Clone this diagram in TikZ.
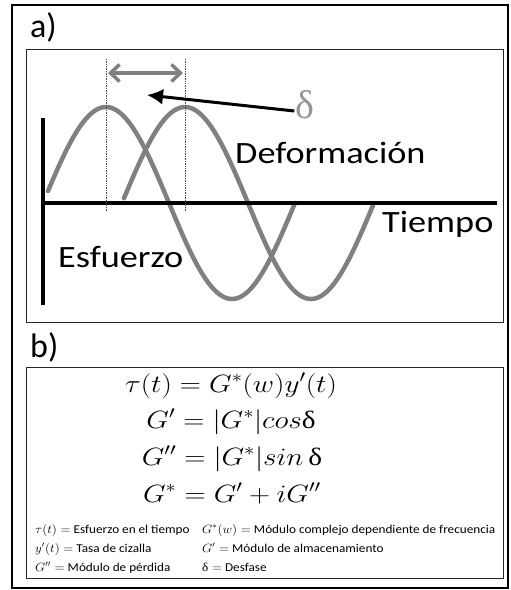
\documentclass[tikz,border=0pt]{standalone}
\usepackage{fix-cm}
\usepackage{fontspec}
\setmainfont{Carlito}
\newfontfamily\grk{Liberation Serif}
\usetikzlibrary{arrows.meta}
\definecolor{wavegray}{RGB}{128,128,128}
\definecolor{lightgray}{RGB}{150,150,150}
\newcommand{\wtext}[1]{\scalebox{1.17}[1]{#1}}
\newcommand{\lwtext}[1]{\scalebox{1.1}[1]{#1}}
\newcommand{\updelta}{\mbox{\grk δ}}
\begin{document}
\begin{tikzpicture}[
        x=1pt, y=-1pt,
        frame/.style={draw=black!85, line width=0.9pt},
        axis/.style={line width=4pt},
        wave/.style={wavegray, line width=4.5pt, line cap=round},
        guide/.style={densely dotted, line width=0.7pt, black!70},
        lag/.style={{Straight Barb[length=9pt,width=17pt]}-{Straight Barb[length=9pt,width=17pt]}, wavegray, line width=3.5pt},
        pointer/.style={-{Latex[length=16pt,width=16pt]}, line width=3pt},
        panel/.style={font=\fontsize{34}{40}\selectfont, anchor=base west, inner sep=0pt},
        curvelabel/.style={font=\fontsize{31}{36}\selectfont, anchor=base west, inner sep=0pt},
        eqn/.style={font=\fontsize{25}{30}\selectfont, anchor=base, inner sep=0pt},
        legend/.style={font=\fontsize{12}{14}\selectfont, anchor=base west, inner sep=0pt}
    ]
        \useasboundingbox (0,0) rectangle (511,590);

        % Frames
        \draw[line width=2pt] (12,5) rectangle (508,588);
        \draw[frame] (26,49) rectangle (503,322);
        \draw[frame] (26,367) rectangle (503,578);
        \node[panel] (lbla) at (30,37) {a)};
        \node[panel] (lblb) at (30,357) {b)};

        % Waves
        \draw[wave] plot[domain=48:295, samples=90] (\x, {203-96*sin((\x-43)*1.428571)});
        \draw[wave] plot[domain=124:373, samples=90] (\x, {203-96*sin((\x-122)*1.428571)});

        % Axes
        \draw[axis] (43,118) -- (43,305);
        \draw[axis] (43,203) -- (497,203);

        % Phase lag
        \draw[guide] (106,59) -- (106,212);
        \draw[guide] (185,59) -- (185,212);
        \coordinate (lagL) at (108,73);
        \coordinate (lagR) at (183,73);
        \draw[lag] (lagL) -- (lagR);
        \node[text=lightgray, font=\fontsize{40}{44}\selectfont\grk, inner sep=1pt] (delta) at (305,105) {δ};
        \coordinate (dtip) at (147,95);
        \draw[pointer] ([yshift=-6pt]delta.west) -- (dtip);

        \node[curvelabel] (strain) at (235,163) {\wtext{Deformación}};
        \node[curvelabel] (time) at (382,232) {\wtext{Tiempo}};
        \node[curvelabel] (stress) at (58,267) {\wtext{Esfuerzo}};

        % Equations
        \node[eqn] (eq1) at (231,392) {\wtext{$\tau(t) = G^*(w)y'(t)$}};
        \node[eqn] (eq2) at (231,428) {\wtext{$G' = |G^*|cos\updelta$}};
        \node[eqn] (eq3) at (232,465) {\wtext{$G'' = |G^*|sin\,\updelta$}};
        \node[eqn] (eq4) at (232,502) {\wtext{$G^* = G' + iG''$}};

        % Legend
        \node[legend] (ltau) at (35,533) {\lwtext{$\tau(t) =$ Esfuerzo en el tiempo}};
        \node[legend] (lrate) at (35,552) {\lwtext{$y'(t) =$ Tasa de cizalla}};
        \node[legend] (lloss) at (35,571) {\lwtext{$G'' =$ Módulo de pérdida}};
        \node[legend] (lcomp) at (202,533) {\lwtext{$G^*(w) =$ Módulo complejo dependiente de frecuencia}};
        \node[legend] (lstore) at (202,552) {\lwtext{$G' =$ Módulo de almacenamiento}};
        \node[legend] (lphase) at (202,571) {\lwtext{$\updelta =$ Desfase}};
    \end{tikzpicture}
\end{document}
